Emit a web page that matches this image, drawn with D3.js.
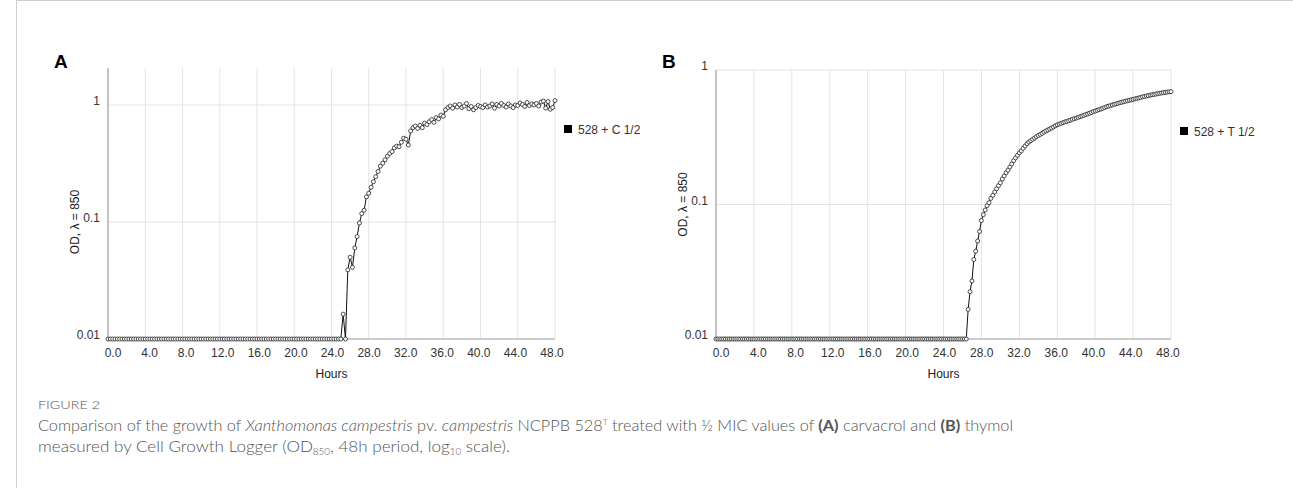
<!DOCTYPE html>
<html>
  <head>
    <meta charset="utf-8">
    <script type="text/javascript" src="https://cdn.jsdelivr.net/npm/d3@7"></script>
    <style>
      body { margin: 0; background: #fff; }
      svg { display: block; }
      .tick-label { font-family: "Liberation Sans", Arial, sans-serif; font-size: 12px; fill: #333; }
      .axis-title { font-family: "Liberation Sans", Arial, sans-serif; font-size: 12px; fill: #222; }
      .panel-letter { font-family: "Liberation Sans", Arial, sans-serif; font-size: 19px; font-weight: bold; fill: #000; }
      .grid { stroke: #e4e4e4; stroke-width: 1; }
      .axisline { stroke: #b0b0b0; stroke-width: 1.5; }
      .xaxisline { stroke: #9a9a9a; stroke-width: 1; }
      .series { fill: none; stroke: #111; stroke-width: 1; }
      .dot { fill: #fff; stroke: #222; stroke-width: 0.8; }
      .caption { font-family: Lato, "Open Sans", sans-serif; font-weight: 300; fill: #555; }
    </style>
  </head>
  <body>
    <script type="text/javascript">
      WIDTH = 1293
      HEIGHT = 488

      // x axis tick labels (hours) and y tick values (log scale)
      var hourTicks = [0, 4, 8, 12, 16, 20, 24, 28, 32, 36, 40, 44, 48]
      var odTicks = [0.01, 0.1, 1]

      // sampling step of the logger, hours
      var stepA = 0.25
      var stepB = 0.2

      // 528 + C 1/2, one row = 4 hours (16 readings)
      var seriesA = [
        0.01, 0.01, 0.01, 0.01, 0.01, 0.01, 0.01, 0.01, 0.01, 0.01, 0.01, 0.01, 0.01, 0.01, 0.01, 0.01,
        0.01, 0.01, 0.01, 0.01, 0.01, 0.01, 0.01, 0.01, 0.01, 0.01, 0.01, 0.01, 0.01, 0.01, 0.01, 0.01,
        0.01, 0.01, 0.01, 0.01, 0.01, 0.01, 0.01, 0.01, 0.01, 0.01, 0.01, 0.01, 0.01, 0.01, 0.01, 0.01,
        0.01, 0.01, 0.01, 0.01, 0.01, 0.01, 0.01, 0.01, 0.01, 0.01, 0.01, 0.01, 0.01, 0.01, 0.01, 0.01,
        0.01, 0.01, 0.01, 0.01, 0.01, 0.01, 0.01, 0.01, 0.01, 0.01, 0.01, 0.01, 0.01, 0.01, 0.01, 0.01,
        0.01, 0.01, 0.01, 0.01, 0.01, 0.01, 0.01, 0.01, 0.01, 0.01, 0.01, 0.01, 0.01, 0.01, 0.01, 0.01,
        0.01, 0.01, 0.01, 0.01, 0.01, 0.0163, 0.01, 0.039, 0.050, 0.041, 0.060, 0.075, 0.098, 0.118, 0.126, 0.164,
        0.176, 0.198, 0.221, 0.244, 0.27, 0.30, 0.318, 0.34, 0.365, 0.385, 0.40, 0.43, 0.445, 0.44, 0.48, 0.52,
        0.51, 0.455, 0.60, 0.64, 0.66, 0.63, 0.67, 0.64, 0.70, 0.68, 0.72, 0.75, 0.71, 0.78, 0.76, 0.82,
        0.80, 0.91, 0.95, 0.98, 0.94, 1.0, 0.96, 1.01, 0.95, 0.98, 1.03, 0.93, 0.97, 0.91, 0.95, 0.99,
        0.97, 0.95, 1.0, 0.96, 0.98, 1.02, 0.94, 1.01, 0.98, 1.03, 0.99, 0.96, 1.02, 0.98, 0.95, 1.0,
        0.99, 1.04, 1.01, 0.97, 1.05, 0.99, 1.02, 1.0, 1.03, 0.98, 1.06, 1.08, 0.94, 1.07, 0.92, 0.95,
        1.09
      ]

      // 528 + T 1/2, one row = 4 hours (20 readings)
      var seriesB = [
        0.01, 0.01, 0.01, 0.01, 0.01, 0.01, 0.01, 0.01, 0.01, 0.01, 0.01, 0.01, 0.01, 0.01, 0.01, 0.01, 0.01, 0.01, 0.01, 0.01,
        0.01, 0.01, 0.01, 0.01, 0.01, 0.01, 0.01, 0.01, 0.01, 0.01, 0.01, 0.01, 0.01, 0.01, 0.01, 0.01, 0.01, 0.01, 0.01, 0.01,
        0.01, 0.01, 0.01, 0.01, 0.01, 0.01, 0.01, 0.01, 0.01, 0.01, 0.01, 0.01, 0.01, 0.01, 0.01, 0.01, 0.01, 0.01, 0.01, 0.01,
        0.01, 0.01, 0.01, 0.01, 0.01, 0.01, 0.01, 0.01, 0.01, 0.01, 0.01, 0.01, 0.01, 0.01, 0.01, 0.01, 0.01, 0.01, 0.01, 0.01,
        0.01, 0.01, 0.01, 0.01, 0.01, 0.01, 0.01, 0.01, 0.01, 0.01, 0.01, 0.01, 0.01, 0.01, 0.01, 0.01, 0.01, 0.01, 0.01, 0.01,
        0.01, 0.01, 0.01, 0.01, 0.01, 0.01, 0.01, 0.01, 0.01, 0.01, 0.01, 0.01, 0.01, 0.01, 0.01, 0.01, 0.01, 0.01, 0.01, 0.01,
        0.01, 0.01, 0.01, 0.01, 0.01, 0.01, 0.01, 0.01, 0.01, 0.01, 0.01, 0.01, 0.01, 0.0166, 0.0225, 0.027, 0.039, 0.045, 0.0535, 0.063,
        0.076, 0.084, 0.091, 0.098, 0.103, 0.111, 0.117, 0.124, 0.131, 0.138, 0.145, 0.155, 0.163, 0.172, 0.180, 0.190, 0.200, 0.212, 0.222, 0.232,
        0.242, 0.250, 0.262, 0.272, 0.283, 0.291, 0.298, 0.305, 0.312, 0.319, 0.326, 0.332, 0.338, 0.345, 0.352, 0.358, 0.364, 0.370, 0.377, 0.385,
        0.391, 0.396, 0.401, 0.406, 0.411, 0.415, 0.419, 0.424, 0.430, 0.434, 0.439, 0.444, 0.450, 0.455, 0.460, 0.466, 0.471, 0.477, 0.483, 0.490,
        0.495, 0.501, 0.507, 0.513, 0.519, 0.526, 0.533, 0.538, 0.543, 0.549, 0.555, 0.560, 0.566, 0.571, 0.576, 0.581, 0.586, 0.591, 0.595, 0.600,
        0.605, 0.610, 0.615, 0.620, 0.625, 0.631, 0.636, 0.641, 0.645, 0.650, 0.654, 0.658, 0.662, 0.667, 0.671, 0.675, 0.678, 0.682, 0.685, 0.688,
        0.690
      ]

      var legendA = "528 + C 1/2"
      var legendB = "528 + T 1/2"

      var svg = d3.select("body").append("svg")
        .attr("width", WIDTH)
        .attr("height", HEIGHT)

      // light frame of the figure card
      svg.append("line").attr("x1", 16.5).attr("x2", 16.5).attr("y1", 0).attr("y2", HEIGHT)
        .attr("stroke", "#cfcfcf")
      svg.append("line").attr("x1", 16).attr("x2", WIDTH).attr("y1", 0.5).attr("y2", 0.5)
        .attr("stroke", "#cfcfcf")

      // one panel of the figure
      function panel(opt)
      {
        var x = d3.scaleLinear().domain([0, 48]).range([opt.left, opt.right])
        // labels sit on a slightly narrower span than the grid
        var xl = d3.scaleLinear().domain([0, 48]).range([opt.left + 5, opt.right - 3])
        var y = d3.scaleLog().domain([0.01, opt.ymax]).range([opt.bottom, opt.top])

        var g = svg.append("g")

        // vertical grid lines
        g.selectAll(".vgrid").data(hourTicks.slice(1)).enter()
          .append("line").attr("class", "grid")
          .attr("x1", d => x(d)).attr("x2", d => x(d))
          .attr("y1", opt.top).attr("y2", opt.bottom)

        // horizontal grid lines
        g.selectAll(".hgrid").data(odTicks.slice(1)).enter()
          .append("line").attr("class", "grid")
          .attr("x1", opt.left).attr("x2", opt.right)
          .attr("y1", d => y(d)).attr("y2", d => y(d))

        // axes lines
        g.append("line").attr("class", "xaxisline")
          .attr("x1", opt.left).attr("x2", opt.right)
          .attr("y1", y(0.01)).attr("y2", y(0.01))
        g.append("line").attr("class", "axisline")
          .attr("x1", opt.left).attr("x2", opt.left)
          .attr("y1", opt.top).attr("y2", opt.bottom)

        // tick labels
        g.selectAll(".xlab").data(hourTicks).enter()
          .append("text").attr("class", "tick-label")
          .attr("x", d => xl(d)).attr("y", opt.bottom + 18)
          .attr("text-anchor", "middle")
          .text(d => d.toFixed(1))
        g.selectAll(".ylab").data(odTicks).enter()
          .append("text").attr("class", "tick-label")
          .attr("x", opt.left - 8).attr("y", d => y(d))
          .attr("text-anchor", "end")
          .text(d => String(d))

        // axis titles (y title centred between the 1 and 0.01 lines)
        g.append("text").attr("class", "axis-title")
          .attr("x", (opt.left + opt.right) / 2).attr("y", opt.bottom + 39)
          .attr("text-anchor", "middle").text("Hours")
        var ymid = (y(1) + y(0.01)) / 2
        g.append("text").attr("class", "axis-title")
          .attr("transform", "translate(" + (opt.left - 29) + "," + ymid + ") rotate(-90)")
          .attr("text-anchor", "middle").text("OD, λ = 850")

        // panel letter
        g.append("text").attr("class", "panel-letter")
          .attr("x", opt.left - 54).attr("y", 68).text(opt.letter)

        // the series: line then open circles
        var pts = opt.values.map((v, i) => [i * opt.step, v])
        var line = d3.line().x(d => x(d[0])).y(d => y(d[1]))
        g.append("path").attr("class", "series").attr("d", line(pts))
        g.selectAll(".dot").data(pts).enter()
          .append("circle").attr("class", "dot")
          .attr("cx", d => x(d[0])).attr("cy", d => y(d[1])).attr("r", 2)

        // legend
        g.append("rect").attr("x", opt.right + 9).attr("y", opt.legendY - 4)
          .attr("width", 8).attr("height", 8).attr("fill", "#000")
        g.append("text").attr("class", "tick-label").attr("fill", "#222")
          .attr("x", opt.right + 23).attr("y", opt.legendY + 4.5).text(opt.legend)
      }

      panel({ letter: "A", left: 108, right: 555, top: 68, bottom: 339, ymax: 2.07,
              values: seriesA, step: stepA, legend: legendA, legendY: 129 })
      panel({ letter: "B", left: 716, right: 1171, top: 70, bottom: 339, ymax: 1,
              values: seriesB, step: stepB, legend: legendB, legendY: 131 })

      // caption
      svg.append("text").attr("class", "caption")
        .attr("x", 38).attr("y", 409).attr("font-size", 12.5)
        .attr("textLength", 62).attr("lengthAdjust", "spacingAndGlyphs")
        .text("FIGURE 2")

      var cap1 = svg.append("text").attr("class", "caption")
        .attr("x", 38).attr("y", 431).attr("font-size", 15.5)
        .attr("textLength", 975).attr("lengthAdjust", "spacingAndGlyphs")
      cap1.append("tspan").text("Comparison of the growth of ")
      cap1.append("tspan").attr("font-style", "italic").text("Xanthomonas campestris")
      cap1.append("tspan").text(" pv. ")
      cap1.append("tspan").attr("font-style", "italic").text("campestris")
      cap1.append("tspan").text(" NCPPB 528")
      cap1.append("tspan").attr("font-size", 8).attr("dy", -6).text("T")
      cap1.append("tspan").attr("dy", 6).text(" treated with ½ MIC values of ")
      cap1.append("tspan").attr("font-weight", "bold").text("(A)")
      cap1.append("tspan").text(" carvacrol and ")
      cap1.append("tspan").attr("font-weight", "bold").text("(B)")
      cap1.append("tspan").text(" thymol")

      var cap2 = svg.append("text").attr("class", "caption")
        .attr("x", 38).attr("y", 452).attr("font-size", 15.5)
        .attr("textLength", 472).attr("lengthAdjust", "spacingAndGlyphs")
      cap2.append("tspan").text("measured by Cell Growth Logger (OD")
      cap2.append("tspan").attr("font-size", 9).attr("dy", 3).text("850")
      cap2.append("tspan").attr("dy", -3).text(", 48h period, log")
      cap2.append("tspan").attr("font-size", 9).attr("dy", 3).text("10")
      cap2.append("tspan").attr("dy", -3).text(" scale).")
    </script>
  </body>
</html>
